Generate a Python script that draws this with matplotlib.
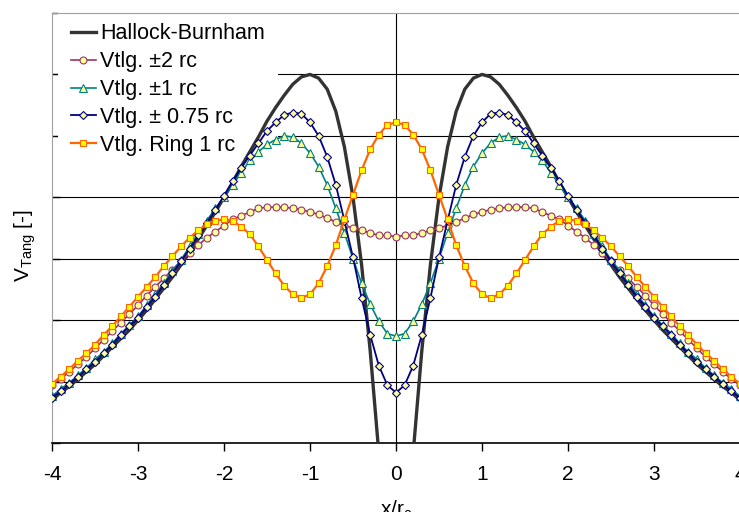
import numpy as np
import matplotlib
matplotlib.use('Agg')
import matplotlib.pyplot as plt

plt.rcParams['font.family'] = ['Liberation Sans', 'DejaVu Sans']

# x/rc sampling grid, 0.1 steps
x_rc = np.linspace(-4, 4, 81)

hallock = [
    0.235, 0.241, 0.246, 0.252, 0.258, 0.264, 0.271, 0.278, 0.285, 0.292,
    0.300, 0.308, 0.317, 0.326, 0.335, 0.345, 0.355, 0.366, 0.377, 0.388,
    0.400, 0.412, 0.425, 0.437, 0.449, 0.462, 0.473, 0.483, 0.492, 0.498,
    0.500, 0.497, 0.488, 0.470, 0.441, 0.400, 0.345, 0.275, 0.192, 0.099,
    0.0,
    0.099, 0.192, 0.275, 0.345, 0.400, 0.441, 0.470, 0.488, 0.497, 0.500,
    0.498, 0.492, 0.483, 0.473, 0.462, 0.449, 0.437, 0.425, 0.412, 0.400,
    0.388, 0.377, 0.366, 0.355, 0.345, 0.335, 0.326, 0.317, 0.308, 0.300,
    0.292, 0.285, 0.278, 0.271, 0.264, 0.258, 0.252, 0.246, 0.241, 0.235]

vtlg_2rc = [
    0.247, 0.252, 0.258, 0.264, 0.270, 0.277, 0.284, 0.291, 0.298, 0.305,
    0.312, 0.320, 0.327, 0.334, 0.341, 0.348, 0.355, 0.361, 0.367, 0.372,
    0.377, 0.382, 0.385, 0.388, 0.391, 0.392, 0.392, 0.392, 0.391, 0.390,
    0.388, 0.386, 0.383, 0.380, 0.377, 0.375, 0.373, 0.371, 0.369, 0.369,
    0.368,
    0.369, 0.369, 0.371, 0.373, 0.375, 0.377, 0.380, 0.383, 0.386, 0.388,
    0.390, 0.391, 0.392, 0.392, 0.392, 0.391, 0.388, 0.385, 0.382, 0.377,
    0.372, 0.367, 0.361, 0.355, 0.348, 0.341, 0.334, 0.327, 0.320, 0.312,
    0.305, 0.298, 0.291, 0.284, 0.277, 0.270, 0.264, 0.258, 0.252, 0.247]

vtlg_1rc = [
    0.238, 0.244, 0.249, 0.255, 0.261, 0.268, 0.274, 0.281, 0.289, 0.296,
    0.303, 0.312, 0.321, 0.330, 0.340, 0.349, 0.360, 0.370, 0.381, 0.391,
    0.400, 0.410, 0.420, 0.430, 0.437, 0.443, 0.447, 0.450, 0.449, 0.444,
    0.436, 0.425, 0.410, 0.391, 0.371, 0.350, 0.330, 0.313, 0.299, 0.289,
    0.287,
    0.289, 0.299, 0.313, 0.330, 0.350, 0.371, 0.391, 0.410, 0.425, 0.436,
    0.444, 0.449, 0.450, 0.447, 0.443, 0.437, 0.430, 0.420, 0.410, 0.400,
    0.391, 0.381, 0.370, 0.360, 0.349, 0.340, 0.330, 0.321, 0.312, 0.303,
    0.296, 0.289, 0.281, 0.274, 0.268, 0.261, 0.255, 0.249, 0.244, 0.238]

vtlg_075rc = [
    0.237, 0.242, 0.248, 0.254, 0.260, 0.266, 0.273, 0.280, 0.288, 0.295,
    0.302, 0.311, 0.319, 0.329, 0.338, 0.348, 0.358, 0.369, 0.379, 0.390,
    0.401, 0.413, 0.424, 0.434, 0.444, 0.454, 0.461, 0.467, 0.469, 0.468,
    0.461, 0.450, 0.433, 0.410, 0.381, 0.351, 0.318, 0.288, 0.263, 0.247,
    0.241,
    0.247, 0.263, 0.288, 0.318, 0.351, 0.381, 0.410, 0.433, 0.450, 0.461,
    0.468, 0.469, 0.467, 0.461, 0.454, 0.444, 0.434, 0.424, 0.413, 0.401,
    0.390, 0.379, 0.369, 0.358, 0.348, 0.338, 0.329, 0.319, 0.311, 0.302,
    0.295, 0.288, 0.280, 0.273, 0.266, 0.260, 0.254, 0.248, 0.242, 0.237]

vtlg_ring = [
    0.248, 0.254, 0.260, 0.267, 0.273, 0.280, 0.288, 0.295, 0.303, 0.311,
    0.319, 0.327, 0.335, 0.344, 0.352, 0.360, 0.367, 0.373, 0.378, 0.381,
    0.382, 0.381, 0.376, 0.370, 0.360, 0.349, 0.338, 0.328, 0.321, 0.318,
    0.321, 0.330, 0.344, 0.361, 0.382, 0.402, 0.422, 0.439, 0.451, 0.459,
    0.461,
    0.459, 0.451, 0.439, 0.422, 0.402, 0.382, 0.361, 0.344, 0.330, 0.321,
    0.318, 0.321, 0.328, 0.338, 0.349, 0.360, 0.370, 0.376, 0.381, 0.382,
    0.381, 0.378, 0.373, 0.367, 0.360, 0.352, 0.344, 0.335, 0.327, 0.319,
    0.311, 0.303, 0.295, 0.288, 0.280, 0.273, 0.267, 0.260, 0.254, 0.248]

grid_levels = [0.25, 0.30, 0.35, 0.40, 0.45, 0.50]
x_ticks = [-4, -3, -2, -1, 0, 1, 2, 3, 4]


fig = plt.figure(figsize=(7.39, 5.12), dpi=100)
ax = fig.add_axes([52 / 739, 69 / 512, 688 / 739, 430 / 512])

for g in grid_levels:
    ax.axhline(g, color='black', lw=0.8, zorder=1)
ax.axvline(0, color='black', lw=0.8, zorder=1)

ax.plot(x_rc, hallock, color='#333333', lw=2.4, zorder=3,
        label='Hallock-Burnham')
ax.plot(x_rc, vtlg_2rc, color='#993366', lw=1.2, marker='o', ms=5,
        mfc='#FFFF99', mec='#993366', mew=0.8, zorder=3,
        label='Vtlg. \u00b12 rc')
ax.plot(x_rc, vtlg_1rc, color='#008080', lw=1.2, marker='^', ms=5.5,
        mfc='#FFFF99', mec='#008080', mew=0.8, zorder=3,
        label='Vtlg. \u00b11 rc')
ax.plot(x_rc, vtlg_075rc, color='#000080', lw=1.3, marker='D', ms=4,
        mfc='#FFFF99', mec='#000080', mew=0.8, zorder=3,
        label='Vtlg. \u00b1 0.75 rc')
ax.plot(x_rc, vtlg_ring, color='#FF6600', lw=1.6, marker='s', ms=5,
        mfc='#FFFF00', mec='#FF6600', mew=0.8, zorder=3,
        label='Vtlg. Ring 1 rc')

ax.set_xlim(-4, 4)
ax.set_ylim(0.2, 0.55)
ax.set_xticks(x_ticks)
ax.set_xticklabels([str(t) for t in x_ticks])
ax.set_yticks([0.2, 0.25, 0.3, 0.35, 0.4, 0.45, 0.5, 0.55])
ax.set_yticklabels([])
ax.tick_params(axis='x', direction='out', length=6, width=1, pad=10,
               labelsize=15)
ax.tick_params(axis='y', direction='in', length=6, width=1)

for s in ['left', 'top', 'right']:
    ax.spines[s].set_color('#A0A0A0')
ax.spines['bottom'].set_color('black')
ax.spines['bottom'].set_linewidth(1.2)

ax.set_xlabel('x/r$_\\mathregular{c}$', fontsize=15, labelpad=10)
ax.set_ylabel('V$_\\mathregular{Tang}$ [-]', fontsize=15)
ax.yaxis.set_label_coords(-0.021, 0.46)

leg = ax.legend(loc='upper left', bbox_to_anchor=(0.009, 1.006),
                fontsize=15.5, frameon=True, fancybox=False,
                edgecolor='none', facecolor='white', framealpha=1,
                borderpad=0.6, labelspacing=0.32, handlelength=1.15,
                handletextpad=0.2, borderaxespad=0)
leg.set_zorder(2)

fig.savefig('out.png', dpi=100)
